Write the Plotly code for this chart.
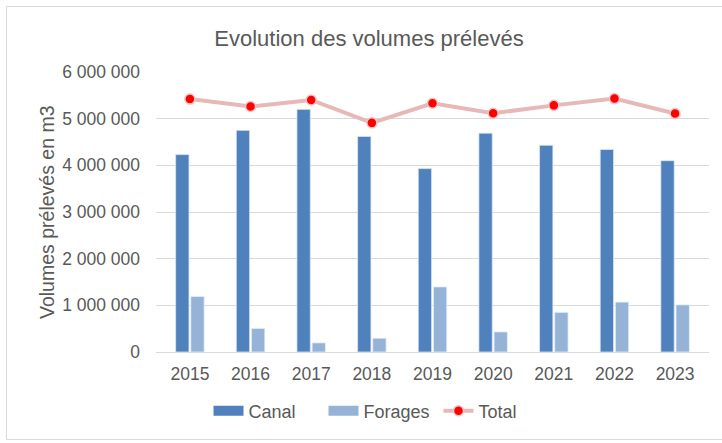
import plotly.graph_objects as go

years = ["2015", "2016", "2017", "2018", "2019", "2020", "2021", "2022", "2023"]
canal = [4230000, 4750000, 5200000, 4620000, 3930000, 4690000, 4430000, 4340000, 4100000]
forages = [1190000, 505000, 195000, 295000, 1395000, 430000, 850000, 1070000, 1010000]
total = [5420000, 5260000, 5400000, 4910000, 5330000, 5115000, 5285000, 5430000, 5110000]
y_ticks = [0, 1000000, 2000000, 3000000, 4000000, 5000000, 6000000]

CANAL_COLOR = "#4F81BD"
FORAGES_COLOR = "#95B3D7"

fig = go.Figure()
fig.add_trace(go.Bar(x=years, y=canal, name="Canal", showlegend=False, legendgroup="c",
                     marker=dict(color=CANAL_COLOR, line=dict(color="#DCE6F2", width=0.8))))
fig.add_trace(go.Bar(x=years, y=forages, name="Forages", showlegend=False, legendgroup="f",
                     marker=dict(color=FORAGES_COLOR, line=dict(color="#E6EDF6", width=0.8))))
fig.add_trace(go.Scatter(x=years, y=total, name="Total", mode="lines+markers", showlegend=False,
                         legendgroup="t",
                         line=dict(color="#E6B9B8", width=4),
                         marker=dict(color="#FF0000", size=10, line=dict(color="#F2C4C4", width=1.5))))
# legend entries (wide swatches like the original)
fig.add_trace(go.Scatter(x=[None], y=[None], name="Canal", mode="lines", legendgroup="c",
                         line=dict(color=CANAL_COLOR, width=10)))
fig.add_trace(go.Scatter(x=[None], y=[None], name="Forages", mode="lines", legendgroup="f",
                         line=dict(color=FORAGES_COLOR, width=10)))
fig.add_trace(go.Scatter(x=[None], y=[None], name="Total", mode="lines+markers", legendgroup="t",
                         line=dict(color="#E6B9B8", width=4),
                         marker=dict(color="#FF0000", size=10, line=dict(color="#F2C4C4", width=1.5))))

L, R, T, B = 156, 13, 72, 91
W, H = 722, 443
pw, ph = W - L - R, H - T - B
def px2x(px): return (px - L) / pw
def py2y(py): return (H - B - py) / ph

fig.add_shape(type="rect", xref="paper", yref="paper",
              x0=px2x(6.5), x1=px2x(740), y0=py2y(439.5), y1=py2y(6.5),
              line=dict(color="#D9D9D9", width=1), layer="below")

fig.add_annotation(text="Volumes prélevés en m3", xref="paper", yref="paper",
                   x=px2x(47), y=py2y(212), xanchor="center", yanchor="middle",
                   textangle=-90, showarrow=False,
                   font=dict(size=19.5, color="#595959"))

fig.update_layout(
    width=W, height=H,
    margin=dict(l=L, r=R, t=T, b=B, autoexpand=False),
    paper_bgcolor="white", plot_bgcolor="white",
    font=dict(family="Liberation Sans, Arial, sans-serif", color="#595959", size=17.5),
    title=dict(text="Evolution des volumes prélevés", x=369 / W, xref="container", xanchor="center",
               y=1 - 38 / H, yref="container", yanchor="middle", font=dict(size=22, color="#595959")),
    barmode="group", bargap=0.5, bargroupgap=0.12,
    separators=", ",
    showlegend=True,
    legend=dict(orientation="h", x=381 / W, xanchor="center", xref="container",
                y=1 - 411 / H, yref="container", yanchor="middle",
                font=dict(size=18, color="#595959"), entrywidth=70, entrywidthmode="pixels",
                itemclick=False, itemdoubleclick=False),
    xaxis=dict(showgrid=False, showline=True, linecolor="#D9D9D9", linewidth=1,
               ticks="", tickfont=dict(size=17.5), ticklabelstandoff=6),
    yaxis=dict(range=[0, 6000000], tickvals=y_ticks, tickformat=",d",
               showgrid=True, gridcolor="#D9D9D9", gridwidth=1, zeroline=False,
               ticks="", tickfont=dict(size=17.5), ticklabelstandoff=15),
)

fig.write_html("out.html", config={"displayModeBar": False},
               post_script="document.body.style.margin='0';")
